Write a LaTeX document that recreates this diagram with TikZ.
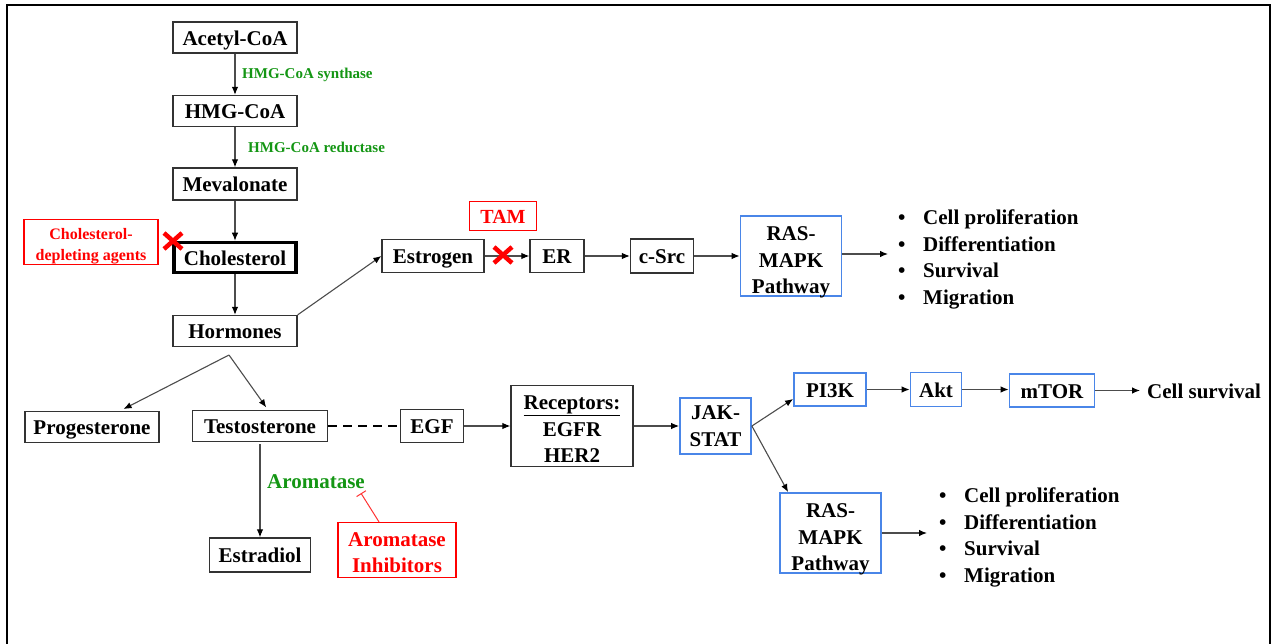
\documentclass[tikz,border=0pt]{standalone}
\usepackage{fontspec}
\setmainfont{Liberation Serif}
\usetikzlibrary{arrows.meta}

\definecolor{boxblue}{RGB}{74,134,232}
\definecolor{enzgreen}{RGB}{20,150,20}

% first-line strut and descender-free last line for stacked labels
\newcommand{\topgap}[1]{\rule{0pt}{#1}}
\newcommand{\nodesc}[1]{\raisebox{0pt}[\height][0pt]{#1}}

\tikzset{
  every node/.style={font=\fontsize{21}{26.7}\selectfont\bfseries},
  box/.style={draw=black!80, line width=1.3pt, fill=white, align=center, inner sep=0pt},
  oneline/.style={text height=15.5pt, text depth=0pt},
  bluebox/.style={box, draw=boxblue, line width=1.8pt},
  redbox/.style={draw=red, line width=1.2pt, text=red, align=center, inner sep=0pt},
  enzyme/.style={text=enzgreen, anchor=west, inner sep=0pt},
  link/.style={draw=black!70, line width=1.1pt, -{Latex[length=8pt,width=6.5pt,color=black]}},
  block/.style={draw=red!80, line width=1pt, -{Bar[width=11pt]}},
  cross/.style={draw=red, line width=4.5pt},
  effects/.style={anchor=west, align=left, inner ysep=0pt},
}

\begin{document}
\begin{tikzpicture}[x=1pt, y=-1pt]
\useasboundingbox (0,0) rectangle (1276,644);
\draw[line width=1.5pt] (7,650) -- (7,5) -- (1270,5) -- (1270,650);

% cholesterol synthesis
\node[box, oneline, minimum width=124pt, minimum height=31pt] (acetyl) at (235,37.5) {Acetyl-CoA};
\node[box, oneline, minimum width=124pt, minimum height=31pt] (hmg) at (235,111) {HMG-CoA};
\node[box, oneline, minimum width=124pt, minimum height=32pt] (meval) at (235,184) {Mevalonate};
\node[box, oneline, draw=black, line width=3.5pt, minimum width=122pt, minimum height=30pt] (chol) at (235,257.5) {Cholesterol};
\node[box, oneline, minimum width=124pt, minimum height=31pt] (horm) at (235,331) {Hormones};
\node[enzyme, font=\fontsize{15}{18}\selectfont\bfseries] (synth) at (242,75) {HMG-CoA synthase};
\node[enzyme, font=\fontsize{15}{18}\selectfont\bfseries] (reduct) at (248,147) {HMG-CoA reductase};
\node[redbox, font=\fontsize{16}{21}\selectfont\bfseries, minimum width=134pt, minimum height=45pt] (depl) at (91,242) {\topgap{19pt}Cholesterol-\\depleting agents};

\draw[link] (acetyl) -- (hmg);
\draw[link] (hmg) -- (meval);
\draw[link] (meval) -- (chol);
\draw[link] (chol) -- (horm);
\coordinate (x1) at (173,241);
\draw[cross] (x1) +(-9,-8) -- +(9,8) +(-9,8) -- +(9,-8);

% estrogen branch
\node[box, oneline, minimum width=102pt, minimum height=33pt] (estr) at (433,256) {Estrogen};
\node[box, oneline, minimum width=54pt, minimum height=33pt] (er) at (557,256) {ER};
\node[box, oneline, minimum width=63pt, minimum height=34pt] (csrc) at (662,256) {c-Src};
\node[bluebox, minimum width=101pt, minimum height=80pt] (ras1) at (791,256) {\topgap{22pt}RAS-\\MAPK\\\nodesc{Pathway}};
\node[redbox, oneline, font=\fontsize{20}{24}\selectfont\bfseries, minimum width=67pt, minimum height=29pt] (tam) at (503,216) {TAM};
\node[effects, inner xsep=10pt] (list1) at (888,259.5) {\makebox[25pt][l]{\textbullet}Cell proliferation\\
  \makebox[25pt][l]{\textbullet}Differentiation\\
  \makebox[25pt][l]{\textbullet}Survival\\
  \makebox[25pt][l]{\textbullet}Migration};

\draw[link] (horm.north east) -- (estr.west);
\draw[link] (estr) -- (er);
\draw[link] (er) -- (csrc);
\draw[link] (csrc) -- (ras1);
\draw[link] ([yshift=2pt]ras1.east) -- ([yshift=2pt]ras1.east -| list1.west);
\coordinate (x2) at (503,255);
\draw[cross] (x2) +(-9,-8) -- +(9,8) +(-9,8) -- +(9,-8);

% hormones
\node[box, oneline, minimum width=134pt, minimum height=31pt] (prog) at (92,427) {Progesterone};
\node[box, oneline, minimum width=135pt, minimum height=31pt] (testo) at (260,426) {Testosterone};
\node[box, oneline, minimum width=101pt, minimum height=34pt] (estrad) at (260,555) {Estradiol};
\node[enzyme] (arom) at (267,482) {Aromatase};
\node[redbox, minimum width=118pt, minimum height=55pt] (inhib) at (397,550) {\topgap{19pt}Aromatase\\Inhibitors};

\coordinate (split) at (229,355);
\draw[link, shorten >=4pt] (split) -- ([xshift=28pt]prog.north);
\draw[link, shorten >=3pt] (split) -- ([xshift=8pt]testo.north);
\draw[link, shorten <=2pt] (testo) -- (estrad);
\draw[block] ([xshift=-18pt]inhib.north) -- ([xshift=-4pt,yshift=-4pt]arom.south east);

% growth factor branch
\node[box, oneline, minimum width=63pt, minimum height=33pt] (egf) at (432,426) {EGF};
\node[box, minimum width=122pt, minimum height=81pt] (rec) at (572,426) {\topgap{20.5pt}\underline{Receptors:}\\EGFR\\HER2};
\node[bluebox, minimum width=71pt, minimum height=56pt] (jak) at (715.5,426) {JAK-\\STAT};
\node[bluebox, oneline, minimum width=72pt, minimum height=33pt] (pi3k) at (830,389.5) {PI3K};
\node[bluebox, oneline, minimum width=51pt, minimum height=34pt] (akt) at (936,389.5) {Akt};
\node[bluebox, oneline, minimum width=85pt, minimum height=33pt] (mtor) at (1052,390.5) {mTOR};
\node[anchor=west, inner xsep=7pt, inner ysep=0pt] (surv) at (1140,391.5) {Cell survival};
\node[bluebox, minimum width=101pt, minimum height=80pt] (ras2) at (830.5,533) {\topgap{22pt}RAS-\\MAPK\\\nodesc{Pathway}};
\node[effects, inner xsep=12pt] (list2) at (927,537.5) {\makebox[25pt][l]{\textbullet}Cell proliferation\\
  \makebox[25pt][l]{\textbullet}Differentiation\\
  \makebox[25pt][l]{\textbullet}Survival\\
  \makebox[25pt][l]{\textbullet}Migration};

\draw[dash pattern=on 9pt off 6pt, line width=1.6pt] (testo) -- (egf);
\draw[link] (egf) -- (rec);
\draw[link] (rec) -- (jak);
\draw[link] (jak.east) -- ([yshift=-9.5pt]pi3k.west);
\draw[link] (jak.east) -- ([xshift=9pt]ras2.north west);
\draw[link] (pi3k.east) -- (pi3k.east -| akt.west);
\draw[link] (akt.east) -- (akt.east -| mtor.west);
\draw[link] (mtor.east) -- (mtor.east -| surv.west);
\draw[link] (ras2.east) -- (ras2.east -| list2.west);
\end{tikzpicture}
\end{document}
